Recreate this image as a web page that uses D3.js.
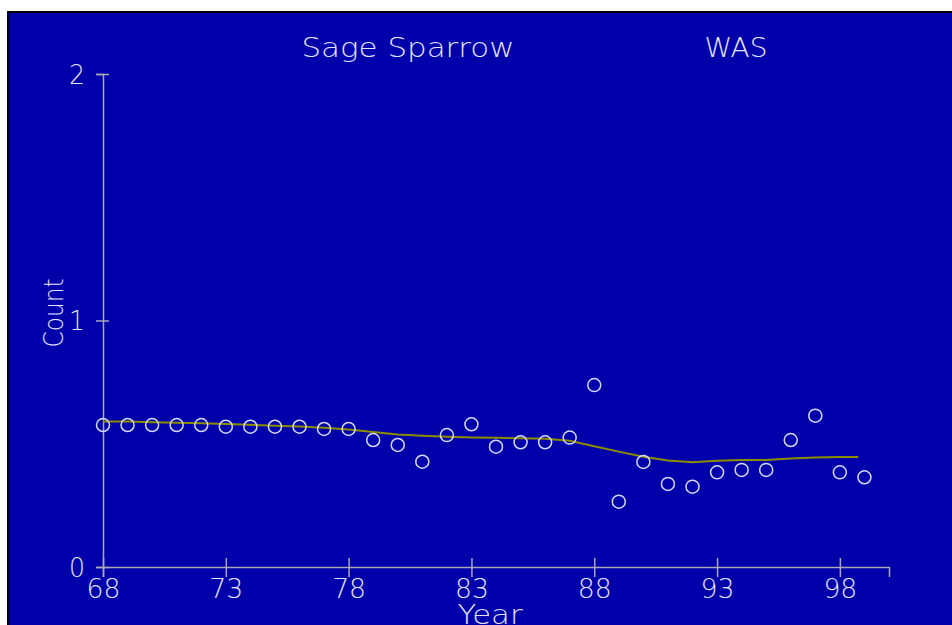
<!DOCTYPE html>
<html>
<head>
<meta charset="utf-8">
<script src="https://cdn.jsdelivr.net/npm/d3@7"></script>
<style>
  html, body { margin: 0; padding: 0; background: #ffffff; }
  text { font-family: "DejaVu Sans", sans-serif; font-weight: 200; fill: #e4e4ff; }
</style>
</head>
<body>
<div id="chart"></div>
<script>
// data
var years = [68,69,70,71,72,73,74,75,76,77,78,79,80,81,82,83,84,85,86,87,88,89,90,91,92,93,94,95,96,97,98,99];
var counts = [0.576,0.576,0.576,0.576,0.576,0.569,0.569,0.569,0.569,0.560,0.560,0.515,0.495,0.427,0.535,0.579,
              0.488,0.506,0.506,0.525,0.738,0.265,0.426,0.337,0.326,0.384,0.394,0.394,0.515,0.614,0.384,0.364];
var trendYears = [68,69,70,71,72,73,74,75,76,77,78,79,80,81,82,83,84,85,86,87,88,89,90,91,92,93,94,95,96,97,98,98.75];
var trendValues = [0.59,0.59,0.587,0.585,0.583,0.58,0.577,0.573,0.57,0.565,0.558,0.548,0.538,0.532,0.528,0.525,
                   0.524,0.522,0.52,0.512,0.49,0.468,0.447,0.432,0.425,0.431,0.434,0.434,0.44,0.444,0.446,0.446];
var xTicks = [68,73,78,83,88,93,98];
var yTicks = [0,1,2];
var title = "Sage  Sparrow";
var region = "WAS";

var W = 952, H = 625;
var axisColor = "#a8a8b8";

var svg = d3.select("#chart").append("svg")
  .attr("width", W).attr("height", H);

// frame
svg.append("rect").attr("x", 7).attr("y", 11).attr("width", W - 7).attr("height", H - 11).attr("fill", "#000000");
svg.append("rect").attr("x", 9).attr("y", 13).attr("width", W - 9).attr("height", H - 13).attr("fill", "#0000aa");

var x = d3.scaleLinear().domain([68, 100]).range([103, 889]);
var y = d3.scaleLinear().domain([0, 2]).range([567, 74]);

// x axis
var xAxis = svg.append("g")
  .attr("transform", "translate(0," + y(0) + ")")
  .call(d3.axisBottom(x).tickValues(xTicks).tickFormat(d3.format("d")).tickSizeOuter(0).tickSize(10).tickPadding(21));
xAxis.select(".domain").attr("stroke", axisColor).attr("stroke-width", 1.5);
xAxis.selectAll(".tick line").attr("stroke", axisColor).attr("stroke-width", 1.5).attr("y1", -9);
xAxis.selectAll(".tick text").attr("font-size", 26).attr("fill", "#e4e4ff")
  .attr("font-family", "DejaVu Sans").attr("dy", "0")
  .attr("textLength", 34).attr("lengthAdjust", "spacingAndGlyphs");

// y axis
var yAxis = svg.append("g")
  .attr("transform", "translate(" + x(68) + ",0)")
  .call(d3.axisLeft(y).tickValues(yTicks).tickFormat(d3.format("d")).tickSizeOuter(0).tickSize(7).tickPadding(11));
yAxis.select(".domain").attr("stroke", axisColor).attr("stroke-width", 1.5);
yAxis.selectAll(".tick line").attr("stroke", axisColor).attr("stroke-width", 1.5).attr("x2", 6).attr("x1", -7);
yAxis.selectAll(".tick text").attr("font-size", 26).attr("fill", "#e4e4ff")
  .attr("font-family", "DejaVu Sans").attr("dy", "0.36em")
  .attr("textLength", 16).attr("lengthAdjust", "spacingAndGlyphs");

// titles
svg.append("text").attr("x", 408).attr("y", 57).attr("text-anchor", "middle")
  .attr("font-size", 26).attr("textLength", 213).attr("lengthAdjust", "spacingAndGlyphs").text(title);
svg.append("text").attr("x", 736).attr("y", 57).attr("text-anchor", "middle")
  .attr("font-size", 26).attr("textLength", 63).attr("lengthAdjust", "spacingAndGlyphs").text(region);

// axis labels
svg.append("text").attr("x", 490).attr("y", 624).attr("text-anchor", "middle")
  .attr("font-size", 26).attr("textLength", 65).attr("lengthAdjust", "spacingAndGlyphs").text("Year");
svg.append("text").attr("transform", "translate(63,313) rotate(-90)").attr("text-anchor", "middle")
  .attr("font-size", 26).attr("textLength", 69).attr("lengthAdjust", "spacingAndGlyphs").text("Count");

// trend line
var line = d3.line()
  .x(function(d, i) { return x(trendYears[i]); })
  .y(function(d) { return y(d); });
svg.append("path").datum(trendValues)
  .attr("d", line)
  .attr("fill", "none")
  .attr("stroke", "#8c8c00")
  .attr("stroke-width", 2);

// points
svg.selectAll("circle.pt")
  .data(counts)
  .join("circle")
  .attr("class", "pt")
  .attr("cx", function(d, i) { return x(years[i]); })
  .attr("cy", function(d) { return y(d); })
  .attr("r", 6.5)
  .attr("fill", "none")
  .attr("stroke", "#d8d8ff")
  .attr("stroke-width", 1.5);
</script>
</body>
</html>
